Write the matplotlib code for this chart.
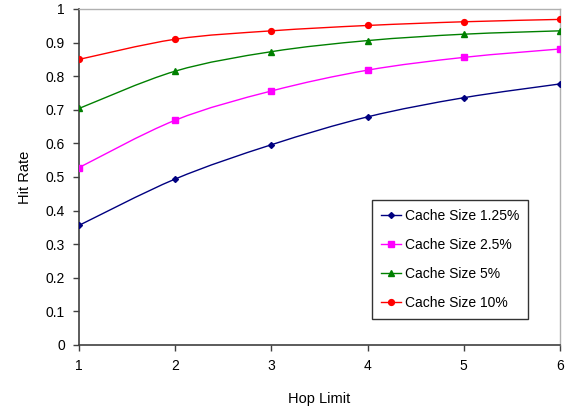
import matplotlib
matplotlib.use("Agg")
import matplotlib.pyplot as plt
from matplotlib.path import Path
from matplotlib.patches import PathPatch
from matplotlib.lines import Line2D
import numpy as np

plt.rcParams['font.family'] = ['Liberation Sans', 'DejaVu Sans']

hops = [1, 2, 3, 4, 5, 6]
labels = ["Cache Size 1.25%", "Cache Size 2.5%", "Cache Size 5%", "Cache Size 10%"]
s125 = [0.356, 0.494, 0.596, 0.679, 0.736, 0.777]
s25 = [0.528, 0.669, 0.756, 0.818, 0.856, 0.881]
s5 = [0.704, 0.815, 0.873, 0.906, 0.925, 0.935]
s10 = [0.850, 0.910, 0.935, 0.951, 0.962, 0.969]

series = [s125, s25, s5, s10]
colors = ['#000080', '#FF00FF', '#008000', '#FF0000']
markers = ['D', 's', '^', 'o']
msizes = [3.0, 4.2, 4.2, 4.2]

fig = plt.figure(figsize=(5.65, 4.12), dpi=100)
ax = fig.add_axes([79/565, 67/412, 481/565, 336/412])


def smooth_path(x, y):
    x = np.asarray(x, float); y = np.asarray(y, float)
    n = len(x)
    verts = [(x[0], y[0])]
    codes = [Path.MOVETO]
    for i in range(n - 1):
        p0 = np.array([x[max(i - 1, 0)], y[max(i - 1, 0)]])
        p1 = np.array([x[i], y[i]])
        p2 = np.array([x[i + 1], y[i + 1]])
        p3 = np.array([x[min(i + 2, n - 1)], y[min(i + 2, n - 1)]])
        c1 = p1 + (p2 - p0) / 6.0
        c2 = p2 - (p3 - p1) / 6.0
        verts += [tuple(c1), tuple(c2), tuple(p2)]
        codes += [Path.CURVE4] * 3
    return Path(verts, codes)


handles = []
for vals, c, m, ms, lab in zip(series, colors, markers, msizes, labels):
    patch = PathPatch(smooth_path(hops, vals), facecolor='none', edgecolor=c, lw=1.0, zorder=2)
    ax.add_patch(patch)
    ax.plot(hops, vals, linestyle='none', marker=m, color=c, markersize=ms, zorder=3)
    handles.append(Line2D([], [], color=c, lw=1.0, marker=m, markersize=ms))

ax.set_xlim(1, 6)
ax.set_ylim(0, 1)
ax.set_xticks(hops)
ax.set_yticks(np.arange(0, 1.01, 0.1))
ax.set_yticklabels(['0', '0.1', '0.2', '0.3', '0.4', '0.5', '0.6', '0.7', '0.8', '0.9', '1'])
ax.tick_params(direction='out', length=4, width=1, labelsize=10, colors='#404040', labelcolor='black', pad=6)

for s in ['left', 'bottom']:
    ax.spines[s].set_color('#404040')
    ax.spines[s].set_linewidth(1.2)
for s in ['top', 'right']:
    ax.spines[s].set_color('#b0b0b0')
    ax.spines[s].set_linewidth(1.0)

ax.set_xlabel('Hop Limit', fontsize=10.5, labelpad=14)
ax.set_ylabel('Hit Rate', fontsize=10.5, labelpad=10)

leg = ax.legend(handles, labels, loc='upper left',
                bbox_to_anchor=((372 - 79) / 481, (345 - 200) / 336),
                fontsize=10, frameon=True, fancybox=False, edgecolor='black',
                handlelength=1.45, handletextpad=0.25, labelspacing=1.07,
                borderpad=0.65, borderaxespad=0)
leg.get_frame().set_linewidth(1.0)

fig.savefig('out.png', dpi=100)
